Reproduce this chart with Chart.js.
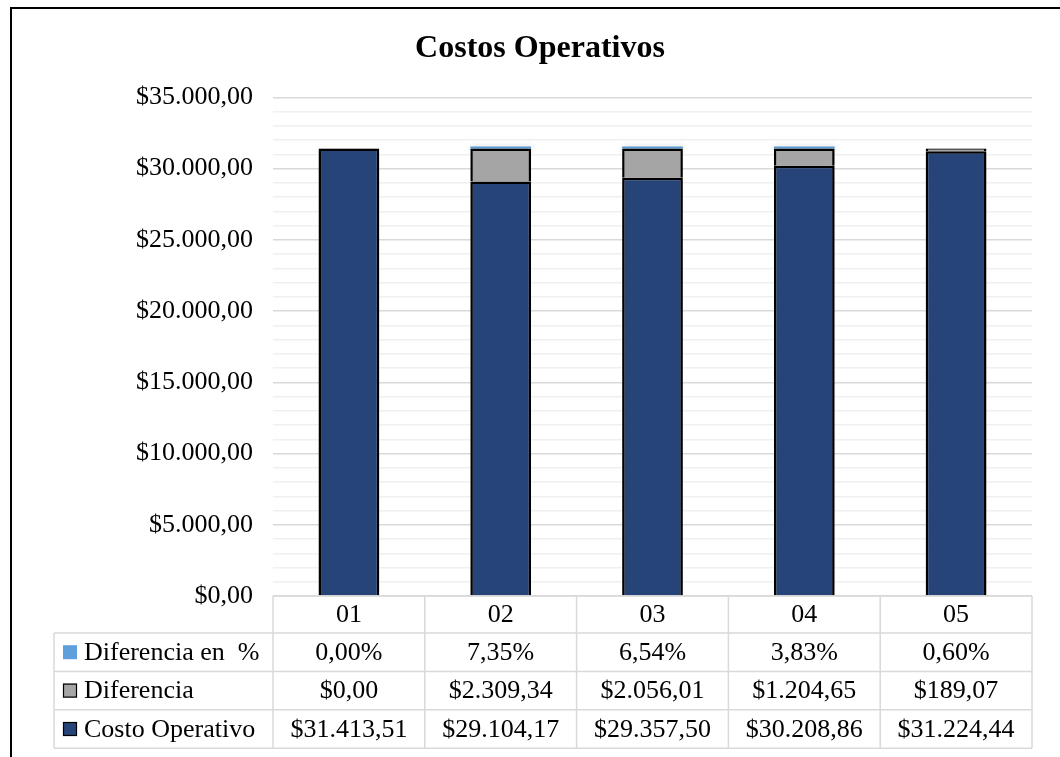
<!DOCTYPE html>
<html>
<head>
<meta charset="utf-8">
<title>Costos Operativos</title>
<script src="https://cdn.jsdelivr.net/npm/chart.js@4.4.1/dist/chart.umd.min.js"></script>
<style>
  html, body { margin: 0; padding: 0; background: #fff; }
  #wrap { width: 1060px; height: 757px; }
</style>
</head>
<body>
<div id="wrap"><canvas id="costosChart"></canvas></div>
<script>
const periodos = ['01', '02', '03', '04', '05'];
const costoOperativo = [31413.51, 29104.17, 29357.50, 30208.86, 31224.44];
const diferencia = [0, 2309.34, 2056.01, 1204.65, 189.07];
const diferenciaPct = [0, 0.0735, 0.0654, 0.0383, 0.0060];
const nombresSeries = ['Diferencia en  %', 'Diferencia', 'Costo Operativo'];
const ejeMax = 35000;
const pasoMayor = 5000;
const pasoMenor = 1000;

const FUENTE = "'Liberation Serif', 'Times New Roman', serif";

// $31.413,51
function moneda(v) {
    const [ent, dec] = v.toFixed(2).split('.');
    return '$' + ent.replace(/\B(?=(\d{3})+(?!\d))/g, '.') + ',' + dec;
}
// 7,35%
function porcentaje(v) {
    return (v * 100).toFixed(2).replace('.', ',') + '%';
}

// marco negro arriba e izquierda
const marco = {
    id: 'marco',
    beforeDraw(chart) {
        const c = chart.ctx;
        c.save();
        c.fillStyle = '#fff';
        c.fillRect(0, 0, chart.width, chart.height);
        c.strokeStyle = '#000';
        c.lineWidth = 2;
        c.beginPath();
        c.moveTo(chart.width, 8);
        c.lineTo(11, 8);
        c.lineTo(11, chart.height);
        c.stroke();
        c.restore();
    }
};

// sombra suave de las columnas
const sombra = {
    id: 'sombra',
    beforeDatasetsDraw(chart) {
        const c = chart.ctx;
        c.save();
        c.shadowColor = 'rgba(0, 0, 0, 0.3)';
        c.shadowBlur = 6;
        c.shadowOffsetX = 1;
        c.shadowOffsetY = 1;
    },
    afterDatasetsDraw(chart) {
        chart.ctx.restore();
    }
};

// tabla de datos debajo del grafico
const tablaDatos = {
    id: 'tablaDatos',
    afterDraw(chart) {
        const { ctx, chartArea: area, scales: { x } } = chart;
        const paso = (area.right - area.left) / periodos.length;
        const top = area.bottom;
        const hEnc = 37;
        const hFila = 38.4;
        const izq = 54;
        const fondo = top + hEnc + hFila * 3;

        const filas = [
            { nombre: nombresSeries[0], textos: diferenciaPct.map(porcentaje), color: '#5fa0dc', borde: null },
            { nombre: nombresSeries[1], textos: diferencia.map(moneda), color: '#a5a5a5', borde: '#000' },
            { nombre: nombresSeries[2], textos: costoOperativo.map(moneda), color: '#264478', borde: '#000' }
        ];

        ctx.save();
        ctx.strokeStyle = '#d9d9d9';
        ctx.lineWidth = 1.5;
        ctx.beginPath();
        ctx.moveTo(area.left, top);
        ctx.lineTo(area.right, top);
        for (let i = 0; i <= 3; i++) {
            const y = top + hEnc + hFila * i;
            ctx.moveTo(izq, y);
            ctx.lineTo(area.right, y);
        }
        for (let i = 0; i <= periodos.length; i++) {
            const xl = area.left + paso * i;
            ctx.moveTo(xl, top);
            ctx.lineTo(xl, fondo);
        }
        ctx.moveTo(izq, top + hEnc);
        ctx.lineTo(izq, fondo);
        ctx.stroke();

        ctx.fillStyle = '#000';
        ctx.font = '26px ' + FUENTE;
        ctx.textAlign = 'center';
        ctx.textBaseline = 'middle';
        periodos.forEach((p, i) => {
            ctx.fillText(p, x.getPixelForValue(i), top + hEnc / 2 + 1);
        });

        filas.forEach((fila, r) => {
            const yc = top + hEnc + hFila * r + hFila / 2 + 1;
            ctx.textAlign = 'center';
            ctx.fillStyle = '#000';
            fila.textos.forEach((t, i) => {
                ctx.fillText(t, x.getPixelForValue(i), yc);
            });
            // clave de la serie
            ctx.fillStyle = fila.color;
            ctx.fillRect(63, yc - 8, 14, 14);
            if (fila.borde) {
                ctx.strokeStyle = fila.borde;
                ctx.lineWidth = 1.2;
                ctx.strokeRect(63.5, yc - 7.5, 13, 13);
            }
            ctx.fillStyle = '#000';
            ctx.textAlign = 'left';
            ctx.fillText(fila.nombre, 84, yc);
        });
        ctx.restore();
    }
};

Chart.defaults.font.family = FUENTE;
Chart.defaults.font.size = 26;
Chart.defaults.color = '#000';

const ctx = document.getElementById('costosChart').getContext('2d');
new Chart(ctx, {
    type: 'bar',
    data: {
        labels: periodos,
        datasets: [{
            label: nombresSeries[2],
            data: costoOperativo,
            backgroundColor: '#264478',
            borderColor: '#000',
            borderWidth: 2.5
        }, {
            label: nombresSeries[1],
            data: diferencia,
            backgroundColor: '#a5a5a5',
            borderColor: '#000',
            borderWidth: 2.5
        }, {
            label: nombresSeries[0],
            data: diferenciaPct,
            backgroundColor: c => c.raw > 0.01 ? '#5b9bd5' : 'rgba(0,0,0,0)',
            borderWidth: 0,
            minBarLength: 2
        }]
    },
    options: {
        responsive: true,
        maintainAspectRatio: false,
        animation: false,
        layout: { padding: { left: 48, right: 28, top: 30, bottom: 161 } },
        datasets: {
            bar: { barPercentage: 0.4, categoryPercentage: 1 }
        },
        scales: {
            x: {
                stacked: true,
                display: false
            },
            y: {
                stacked: true,
                min: 0,
                max: ejeMax,
                afterFit: scale => { scale.width = 225; },
                border: { display: false },
                grid: {
                    drawTicks: false,
                    lineWidth: 1.5,
                    color: c => c.tick.value % pasoMayor === 0 ? '#d9d9d9' : '#f0f0f0'
                },
                ticks: {
                    stepSize: pasoMenor,
                    autoSkip: false,
                    padding: 20,
                    callback: v => v % pasoMayor === 0 ? moneda(v) : ''
                }
            }
        },
        plugins: {
            legend: { display: false },
            tooltip: { enabled: false },
            title: {
                display: true,
                text: 'Costos Operativos',
                font: { size: 32, weight: 'bold' },
                color: '#000',
                padding: { top: 0, bottom: 29 }
            }
        }
    },
    plugins: [marco, sombra, tablaDatos]
});
</script>
</body>
</html>
